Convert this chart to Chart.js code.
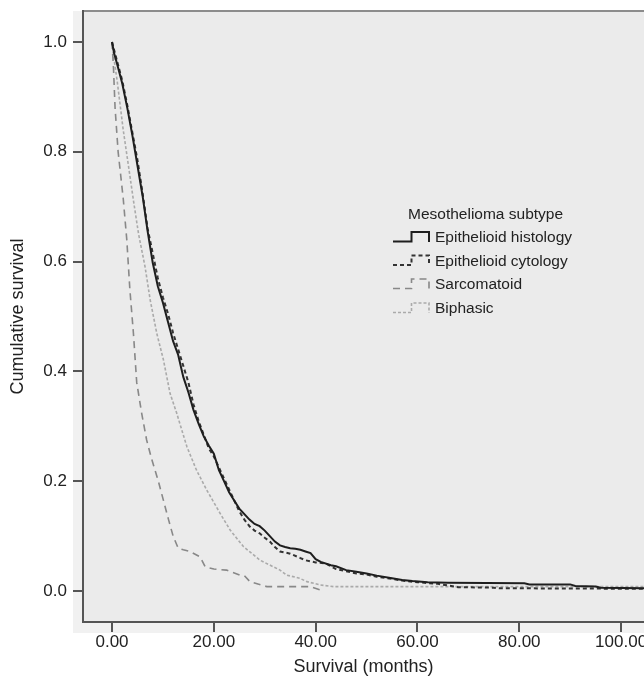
<!DOCTYPE html>
<html><head><meta charset="utf-8">
<script src="https://cdn.jsdelivr.net/npm/chart.js@4"></script>
<style>
html,body{margin:0;padding:0;overflow:hidden;background:#fff;width:644px;height:678px}
#wrap{position:absolute;left:0;top:0;width:700px;height:678px}
</style>
</head><body><div id="wrap"><canvas id="c" width="700" height="678"></canvas></div>
<script>
// ---- data ----
const seriesNames = ['Epithelioid histology', 'Epithelioid cytology', 'Sarcomatoid', 'Biphasic'];
const legendTitle = 'Mesothelioma subtype';
const xTickValues = [0, 20, 40, 60, 80, 100];
const yTickValues = [0, 0.2, 0.4, 0.6, 0.8, 1.0];

const histT = [0,0.4,1,2,3,4,5,6,7,8,9,10,11,12,13,14,15,16,17,18,19,20,21,22,23,24,25,26,27,28,29,30,31,32,33,34,35,36,37,38,39,40,41,43,44,46,48,50,52,55,57,59,62,66,81,82,90,91,95,96,104.5];
const histS = [1.0,0.98,0.96,0.925,0.88,0.83,0.775,0.72,0.655,0.598,0.555,0.525,0.49,0.455,0.43,0.39,0.362,0.33,0.305,0.282,0.265,0.25,0.22,0.2,0.18,0.165,0.15,0.14,0.13,0.122,0.118,0.11,0.1,0.09,0.083,0.08,0.078,0.077,0.075,0.072,0.069,0.058,0.053,0.047,0.045,0.038,0.035,0.032,0.028,0.023,0.02,0.018,0.016,0.015,0.014,0.012,0.012,0.009,0.008,0.006,0.005];

const cytoT = [0,1,2,3,4,5,6,7,8,9,10,11,12,13,14,15,16,17,18,19,20,21,22,23,24,25,26,27,28,29,30,31,32,33,35,37,38,40,42,44,46,48,50,52,55,57,60,64,66,68,75,76,104.5];
const cytoS = [1.0,0.965,0.93,0.885,0.835,0.785,0.725,0.66,0.615,0.57,0.535,0.505,0.47,0.44,0.41,0.38,0.34,0.31,0.285,0.26,0.245,0.225,0.205,0.185,0.165,0.145,0.13,0.118,0.11,0.105,0.097,0.09,0.08,0.072,0.068,0.06,0.056,0.052,0.05,0.04,0.036,0.032,0.03,0.026,0.022,0.019,0.016,0.013,0.01,0.007,0.006,0.005,0.004];

const sarcT = [0,0.3,0.6,1.2,2.2,2.9,3.5,4.2,4.85,5.8,6.8,7.8,9.1,10.1,11.1,12.0,13.0,14,15.3,17.3,18.3,20,22.5,25.1,26,27.1,30.4,38.9,40.9];
const sarcS = [1.0,0.95,0.88,0.8,0.715,0.64,0.55,0.47,0.38,0.325,0.275,0.24,0.2,0.165,0.13,0.1,0.078,0.075,0.072,0.062,0.044,0.04,0.038,0.029,0.028,0.017,0.008,0.008,0.002];

const biphT = [0,0.3,1,2.2,3.3,4.2,5.2,6.5,7.5,8.8,10.1,11.4,12.7,14.7,16.6,18.6,21.2,23.2,25.8,29.1,33.0,34.3,36.9,38.3,40.9,43.5,104.5];
const biphS = [1.0,0.975,0.93,0.84,0.77,0.712,0.651,0.59,0.53,0.469,0.421,0.36,0.324,0.263,0.22,0.184,0.142,0.111,0.081,0.056,0.038,0.029,0.023,0.017,0.011,0.008,0.008];

// ---- styles ----
const FONT = '"Liberation Sans", Arial, Helvetica, sans-serif';
const styles = [
  {color:'#1e1e1e', width:2, dash:[]},
  {color:'#333333', width:2, dash:[4,3]},
  {color:'#888888', width:1.6, dash:[7,5]},
  {color:'#aaaaaa', width:1.6, dash:[3,2]}
];
const pairs = (t, s) => t.map((v, i) => ({x: v, y: s[i]}));
const seriesData = [pairs(histT, histS), pairs(cytoT, cytoS), pairs(sarcT, sarcS), pairs(biphT, biphS)];

const datasets = seriesData.map((d, i) => ({
  label: seriesNames[i],
  data: d,
  borderColor: styles[i].color,
  borderWidth: styles[i].width,
  borderDash: styles[i].dash,
  pointRadius: 0,
  fill: false,
  tension: 0,
  stepped: false
}));

const panelPlugin = {
  id: 'panel',
  beforeDraw(chart) {
    const {ctx, chartArea: a} = chart;
    ctx.save();
    ctx.fillStyle = '#ffffff';
    ctx.fillRect(0, 0, chart.width, chart.height);
    ctx.fillStyle = '#f1f1f1';
    ctx.fillRect(a.left - 10, a.top, a.right - a.left + 10, a.bottom - a.top + 11);
    ctx.fillStyle = '#ebebeb';
    ctx.fillRect(a.left, a.top, a.right - a.left, a.bottom - a.top);
    ctx.strokeStyle = '#8c8c8c';
    ctx.lineWidth = 2;
    ctx.beginPath();
    ctx.moveTo(a.left, a.top);
    ctx.lineTo(a.right, a.top);
    ctx.stroke();
    ctx.restore();
  },
  afterDraw(chart) {
    const ctx = chart.ctx;
    ctx.save();
    ctx.fillStyle = '#222';
    ctx.font = '15.5px ' + FONT;
    ctx.textBaseline = 'middle';
    ctx.textAlign = 'left';
    ctx.fillText(legendTitle, 408, 215);
    const rows = [238, 261.5, 285, 309];
    seriesNames.forEach((name, i) => {
      const c = rows[i];
      const st = styles[i];
      ctx.save();
      ctx.strokeStyle = st.color;
      ctx.lineWidth = st.width;
      ctx.setLineDash(st.dash);
      ctx.beginPath();
      ctx.moveTo(393, c + 3.5);
      ctx.lineTo(411.5, c + 3.5);
      ctx.lineTo(411.5, c - 6);
      ctx.lineTo(429, c - 6);
      ctx.lineTo(429, c + 4);
      ctx.stroke();
      ctx.restore();
      ctx.fillStyle = '#222';
      ctx.fillText(name, 435, c);
    });
    ctx.restore();
  }
};

new Chart(document.getElementById('c'), {
  type: 'line',
  data: {datasets},
  options: {
    responsive: false,
    animation: false,
    layout: {padding: {left: 0, right: 56, top: 11, bottom: 0}},
    plugins: {legend: {display: false}, tooltip: {enabled: false}},
    scales: {
      x: {
        type: 'linear',
        min: -5.7, max: 104.5,
        afterBuildTicks: s => { s.ticks = xTickValues.map(v => ({value: v})); },
        afterFit: s => { s.height = 56; s.paddingLeft = 0; s.paddingRight = 0; },
        ticks: {callback: v => Number(v).toFixed(2), font: {family: FONT, size: 17}, color: '#222', padding: 0, maxRotation: 0, autoSkip: false},
        grid: {drawOnChartArea: false, drawTicks: true, tickLength: 10, color: '#555', lineWidth: 2},
        border: {display: true, color: '#555', width: 2},
        title: {display: true, text: 'Survival (months)', font: {family: FONT, size: 18}, color: '#222', padding: {top: 0, bottom: 0}}
      },
      y: {
        type: 'linear',
        min: -0.0565, max: 1.0565,
        afterBuildTicks: s => { s.ticks = yTickValues.map(v => ({value: v})); },
        afterFit: s => { s.width = 83; s.paddingTop = 0; s.paddingBottom = 0; },
        ticks: {callback: v => Number(v).toFixed(1), font: {family: FONT, size: 17}, color: '#222', padding: 6, autoSkip: false},
        grid: {drawOnChartArea: false, drawTicks: true, tickLength: 10, color: '#555', lineWidth: 2},
        border: {display: true, color: '#555', width: 2},
        title: {display: true, text: 'Cumulative survival', font: {family: FONT, size: 18}, color: '#222', padding: {top: 7, bottom: 0}}
      }
    }
  },
  plugins: [panelPlugin]
});
</script>
</body></html>
